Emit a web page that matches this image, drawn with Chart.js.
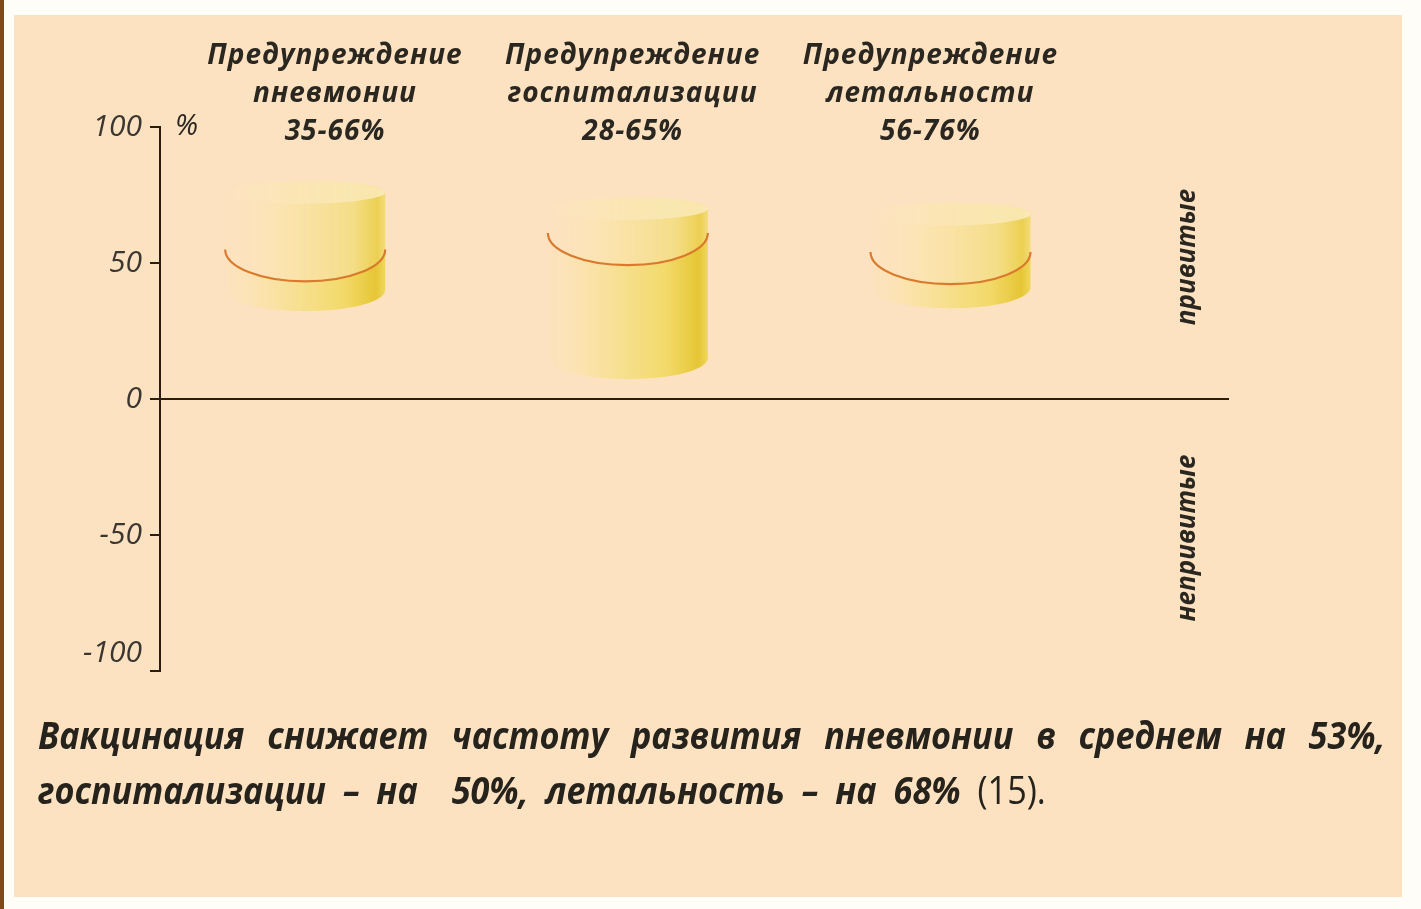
<!DOCTYPE html>
<html lang="ru">
<head>
<meta charset="utf-8">
<title>Вакцинация</title>
<script src="https://cdn.jsdelivr.net/npm/chart.js@4.4.0/dist/chart.umd.min.js"></script>
<style>
  html, body { margin: 0; padding: 0; background: #fffdf8; }
  body { width: 1421px; height: 909px; position: relative; overflow: hidden; font-family: "Open Sans", "DejaVu Sans", sans-serif; }
  #strip { position: absolute; left: 0; top: 0; width: 4px; height: 909px; background: #7b4a1c; }
  #panel { position: absolute; left: 14px; top: 15px; width: 1388px; height: 882px; background: #fde2c1; }
  #chart { position: absolute; left: 0; top: 0; }
  .caption { position: absolute; left: 38px; font-size: 38px; font-weight: 700; font-style: italic; color: #26221c; line-height: 48px; white-space: nowrap; transform: scaleX(0.9); transform-origin: 0 0; }
  #line1 { top: 710px; width: 1497px; text-align: justify; text-align-last: justify; white-space: normal; }
  #line2 { top: 765px; word-spacing: 9px; }
  .ref { font-style: normal; font-weight: 400; }
</style>
</head>
<body>
<div id="strip"></div>
<div id="panel"></div>
<canvas id="chart" width="1421" height="909"></canvas>
<div class="caption" id="line1">Вакцинация снижает частоту развития пневмонии в среднем на 53%,</div>
<div class="caption" id="line2">госпитализации – на &nbsp;50%, летальность – на 68% <span class="ref">(15).</span></div>
<script>
// Data
const categories = [
  ["Предупреждение", "пневмонии"],
  ["Предупреждение", "госпитализации"],
  ["Предупреждение", "летальности"],
];
const ranges = ["35-66%", "28-65%", "56-76%"];
const bottoms = [40, 15, 41]; // cylinder bottom, %
const tops = [76, 70, 68]; // cylinder top, %
const levels = [55, 61, 54]; // orange level line, %
const yTicks = [100, 50, 0, -50, -100];
const sideLabels = ["привитые", "непривитые"];

const axisColor = "#2b1d10";
const textColor = "#2a2620";

// Cylinders drawn over the (transparent) floating bars
const cylinderPlugin = {
  id: "cylinders",
  afterDatasetsDraw(chart) {
    const ctx = chart.ctx;
    const yScale = chart.scales.y;
    chart.getDatasetMeta(0).data.forEach((bar, i) => {
      const { x, y, base, width } = bar.getProps(["x", "y", "base", "width"], true);
      const top = Math.min(y, base);
      const bot = Math.max(y, base);
      const lev = yScale.getPixelForValue(levels[i]);
      const w = width;
      const L = x - w / 2;
      const R = x + w / 2;
      const rT = w * 0.07;
      const rL = w * 0.2;
      const rB = w * 0.13;

      ctx.save();

      // glass part above the level
      let g = ctx.createLinearGradient(L, 0, R, 0);
      g.addColorStop(0, "rgba(253,232,190,0.1)");
      g.addColorStop(0.35, "rgba(250,228,170,0.75)");
      g.addColorStop(0.8, "#f4dd86");
      g.addColorStop(0.95, "#ecd052");
      g.addColorStop(1, "#f2dc7a");
      ctx.beginPath();
      ctx.moveTo(L, top);
      ctx.lineTo(L, lev);
      ctx.ellipse(x, lev, w / 2, rL, 0, Math.PI, 0, true);
      ctx.lineTo(R, top);
      ctx.ellipse(x, top, w / 2, rT, 0, 0, Math.PI, true);
      ctx.closePath();
      ctx.fillStyle = g;
      ctx.fill();

      // liquid part
      g = ctx.createLinearGradient(L, 0, R, 0);
      g.addColorStop(0, "rgba(252,228,180,0.2)");
      g.addColorStop(0.3, "rgba(249,226,160,0.9)");
      g.addColorStop(0.75, "#f2d968");
      g.addColorStop(0.94, "#e6c635");
      g.addColorStop(1, "#efd65e");
      ctx.beginPath();
      ctx.moveTo(L, lev);
      ctx.ellipse(x, lev, w / 2, rL, 0, Math.PI, 0, true);
      ctx.lineTo(R, bot);
      ctx.ellipse(x, bot, w / 2, rB, 0, 0, Math.PI, false);
      ctx.closePath();
      ctx.fillStyle = g;
      ctx.fill();

      // top face
      g = ctx.createLinearGradient(L, 0, R, 0);
      g.addColorStop(0, "rgba(253,230,195,0.1)");
      g.addColorStop(1, "rgba(252,238,200,0.8)");
      ctx.beginPath();
      ctx.ellipse(x, top, w / 2, rT, 0, 0, Math.PI * 2);
      ctx.fillStyle = g;
      ctx.fill();

      // level line
      ctx.beginPath();
      ctx.ellipse(x, lev, w / 2, rL, 0, Math.PI, 0, true);
      ctx.strokeStyle = "#d97a2c";
      ctx.lineWidth = 2.2;
      ctx.stroke();

      ctx.restore();
    });
  },
};

// Titles, % sign and side labels
const textPlugin = {
  id: "texts",
  afterDraw(chart) {
    const ctx = chart.ctx;
    const { y, xt } = chart.scales;
    const area = chart.chartArea;
    ctx.save();
    ctx.fillStyle = textColor;
    ctx.textAlign = "center";
    ctx.textBaseline = "middle";
    ctx.font = 'italic 700 28px "Open Sans", "DejaVu Sans", sans-serif';
    ctx.letterSpacing = "1px";
    categories.forEach((lines, i) => {
      const cx = xt.getPixelForValue(i + 1);
      const rows = [...lines, ranges[i]];
      rows.forEach((t, k) => ctx.fillText(t, cx, 56 + k * 38));
    });
    ctx.letterSpacing = "0px";

    ctx.font = 'italic 400 29px "Open Sans", "DejaVu Sans", sans-serif';
    ctx.textAlign = "left";
    ctx.fillText("%", area.left + 15, y.getPixelForValue(100));

    ctx.font = 'italic 700 26px "Open Sans", "DejaVu Sans", sans-serif';
    ctx.textAlign = "center";
    [50, -50].forEach((v, k) => {
      ctx.save();
      ctx.translate(1188, y.getPixelForValue(v) - (k === 0 ? 6 : -3));
      ctx.rotate(-Math.PI / 2);
      ctx.fillText(sideLabels[k], 0, 0);
      ctx.restore();
    });
    ctx.restore();
  },
};

const initChart = () => {
  const ctx = document.getElementById("chart").getContext("2d");
  new Chart(ctx, {
    type: "bar",
    data: {
      datasets: [
        {
          data: categories.map((c, i) => ({ x: i + 1, y: [bottoms[i], tops[i]] })),
          backgroundColor: "rgba(0,0,0,0)",
          borderWidth: 0,
          barThickness: 160,
        },
      ],
    },
    options: {
      responsive: false,
      animation: false,
      layout: { padding: { left: 0, top: 127, right: 193, bottom: 238 } },
      plugins: { legend: { display: false }, tooltip: { enabled: false } },
      scales: {
        x: {
          type: "linear",
          position: { y: 0 },
          offset: false,
          min: 0.55,
          max: 3.86,
          ticks: { display: false },
          grid: { display: false, offset: false },
          border: { color: axisColor, width: 2 },
        },
        xt: {
          type: "linear",
          display: false,
          position: "top",
          offset: false,
          min: 0.412,
          max: 4.0,
        },
        y: {
          type: "linear",
          min: -100,
          max: 100,
          afterFit: (s) => { s.width = 160; },
          afterBuildTicks: (s) => { s.ticks = yTicks.map((v) => ({ value: v })); },
          ticks: {
            color: "#3a3630",
            padding: 8,
            font: { family: '"Open Sans", "DejaVu Sans", sans-serif', size: 30, style: "italic" },
            callback: (v) => (v === -100 ? ["-100", ""] : String(v)),
          },
          grid: { drawOnChartArea: false, drawTicks: true, tickLength: 10, color: axisColor, lineWidth: 2 },
          border: { color: axisColor, width: 2 },
        },
      },
    },
    plugins: [cylinderPlugin, textPlugin],
  });
};

window.addEventListener("DOMContentLoaded", initChart);
</script>
</body>
</html>
